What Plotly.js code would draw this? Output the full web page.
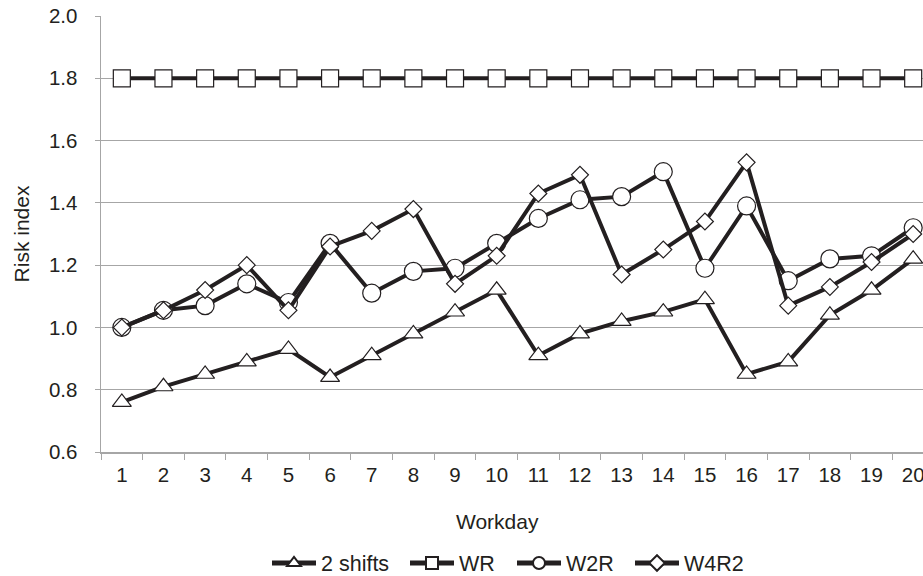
<!DOCTYPE html>
<html>
<head>
<meta charset="utf-8">
<script src="https://cdn.plot.ly/plotly-3.0.1.min.js"></script>
<style>
html,body{margin:0;padding:0;overflow:hidden;background:#fff;width:923px;height:576px;}
#chart{width:940px;height:576px;}
</style>
</head>
<body>
<div id="chart"></div>
<script>
const workdays = ["1","2","3","4","5","6","7","8","9","10","11","12","13","14","15","16","17","18","19","20"];
const twoShifts = [0.76,0.81,0.85,0.89,0.93,0.84,0.91,0.98,1.05,1.12,0.91,0.98,1.02,1.05,1.09,0.85,0.89,1.04,1.12,1.22];
const wr        = [1.8,1.8,1.8,1.8,1.8,1.8,1.8,1.8,1.8,1.8,1.8,1.8,1.8,1.8,1.8,1.8,1.8,1.8,1.8,1.8];
const w2r       = [1.00,1.055,1.07,1.14,1.08,1.27,1.11,1.18,1.19,1.27,1.35,1.41,1.42,1.50,1.19,1.39,1.15,1.22,1.23,1.32];
const w4r2      = [1.00,1.055,1.12,1.20,1.055,1.26,1.31,1.38,1.14,1.23,1.43,1.49,1.17,1.25,1.34,1.53,1.07,1.13,1.21,1.30];

const seriesNames = ["2 shifts","WR","W2R","W4R2"];
const seriesData = [twoShifts, wr, w2r, w4r2];
const symbols = ["triangle-up","square","circle","diamond"];
const sizes = [16.5,17,18,13];

const ink = "#231f20";
const gray = "#a6a6a6";
const legendIds = ["legend","legend2","legend3","legend4"];
const traces = seriesData.map((ys,i)=>({
  type:"scatter", mode:"lines+markers", name:seriesNames[i],
  x:workdays, y:ys, legend:legendIds[i],
  line:{color:ink,width:4},
  marker:{symbol:symbols[i],size:sizes[i],color:"#ffffff",line:{color:ink,width:1.2}}
}));

const W=940, L=101, R=6, T=16, B=124;
const plotW = W-L-R, plotH = 576-T-B;
const legendStarts = [267, 405, 512, 630];
const layout = {
  width:W, height:576,
  margin:{l:L,r:R,t:T,b:B,autoexpand:false},
  paper_bgcolor:"#ffffff", plot_bgcolor:"#ffffff",
  font:{family:"Liberation Sans, Arial, sans-serif",size:20.5,color:ink},
  showlegend:true,
  xaxis:{type:"category",range:[-0.5,workdays.length-0.5],tickson:"boundaries",ticks:"outside",ticklen:6,tickcolor:gray,tickwidth:1,
         showline:true,linecolor:gray,linewidth:1.5,showgrid:false,zeroline:false,automargin:false,
         tickfont:{size:20.5,color:ink},ticklabelstandoff:4,fixedrange:true},
  yaxis:{range:[0.6,2.0],dtick:0.2,tick0:0.6,tickformat:".1f",ticks:"outside",ticklen:5,tickcolor:gray,
         showline:true,linecolor:gray,linewidth:1.5,showgrid:true,gridcolor:gray,gridwidth:1.2,zeroline:false,
         automargin:false,tickfont:{size:20.5,color:ink},ticklabelstandoff:13,
         title:{text:"Risk index",font:{size:21,color:ink},standoff:13}},
  annotations:[{text:"Workday",xref:"paper",yref:"paper",x:(497-L)/plotW,y:-(521-452)/plotH,
                xanchor:"center",yanchor:"middle",showarrow:false,font:{size:21,color:ink}}]
};
legendIds.forEach((id,i)=>{
  layout[id] = {orientation:"h",x:(legendStarts[i]-L)/plotW,xanchor:"left",y:-(563-452)/plotH,yanchor:"middle",
                font:{size:21.5,color:ink},itemwidth:44,itemsizing:"constant",bgcolor:"rgba(0,0,0,0)"};
});
Plotly.newPlot("chart",traces,layout,{displayModeBar:false,staticPlot:true});
</script>
</body>
</html>
